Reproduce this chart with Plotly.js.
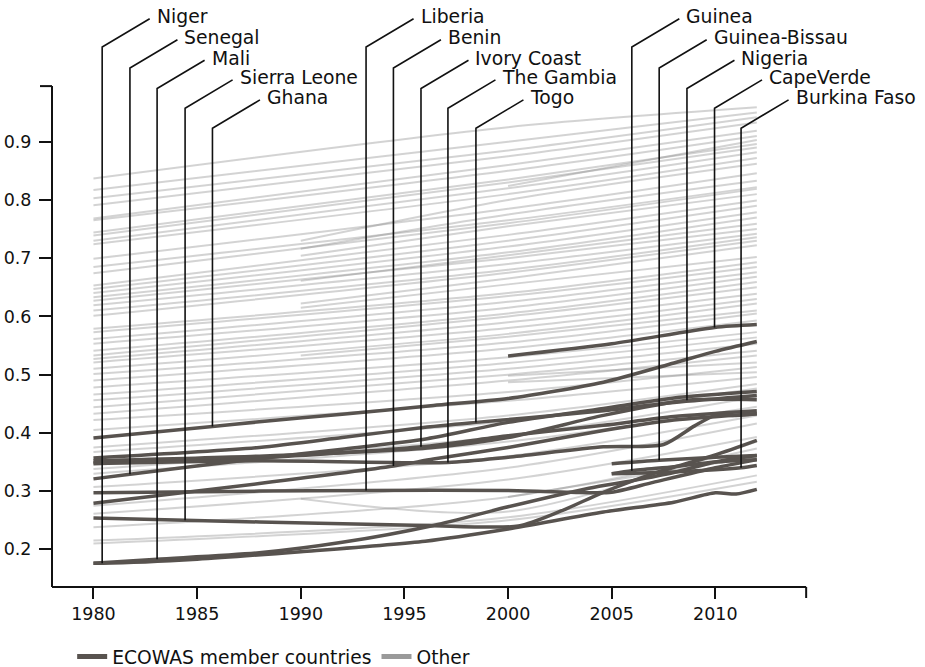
<!DOCTYPE html>
<html><head><meta charset="utf-8">
<script src="https://cdn.plot.ly/plotly-3.0.1.min.js"></script>
<style>html,body{margin:0;padding:0;background:#fff}#chart{width:925px;height:667px}</style>
</head><body><div id="chart"></div>
<script>
// ---------------- DATA ----------------
const labelCountries = ['Niger','Senegal','Mali','Sierra Leone','Ghana','Liberia','Benin','Ivory Coast','The Gambia','Togo','Guinea','Guinea-Bissau','Nigeria','CapeVerde','Burkina Faso'];
const labelYears = [1980.42,1981.76,1983.07,1984.42,1985.74,1993.15,1994.47,1995.8,1997.1,1998.45,2005.97,2007.29,2008.63,2009.96,2011.24];

const niger = [[1980,0.176],[1980.42,0.176],[1985,0.183],[1990,0.196],[1996,0.214],[2000,0.235],[2004.6,0.264],[2008,0.281],[2010,0.297],[2011,0.295],[2012,0.303]];
const senegal = [[1980,0.321],[1981.76,0.329],[1988,0.356],[1992,0.372],[1996.1,0.39],[2000,0.418],[2004.6,0.442],[2008,0.46],[2012,0.471]];
const mali = [[1980,0.176],[1983.07,0.183],[1988,0.194],[1992,0.212],[1996.4,0.241],[2000,0.273],[2003.9,0.305],[2006,0.318],[2008,0.332],[2010,0.35],[2012,0.361]];
const sierraLeone = [[1980,0.254],[1984.42,0.250],[1988,0.247],[1996,0.241],[2000.5,0.240],[2002.5,0.265],[2004.6,0.298],[2007,0.33],[2010,0.362],[2012,0.387]];
const ghana = [[1980,0.391],[1985.74,0.411],[1988,0.419],[1992,0.432],[1996.4,0.447],[2000,0.459],[2004.6,0.487],[2008,0.52],[2010,0.54],[2012,0.557]];
const liberia = [[1980,0.297],[1988,0.300],[1993.15,0.301],[2000,0.301],[2003,0.298],[2005,0.298],[2007,0.315],[2010,0.34],[2012,0.354]];
const benin = [[1980,0.279],[1988,0.313],[1994.47,0.343],[1996.4,0.355],[2000,0.375],[2004.6,0.404],[2008,0.422],[2012,0.433]];
const ivoryCoast = [[1980,0.349],[1988,0.357],[1995.8,0.376],[2000,0.395],[2004.6,0.413],[2008,0.428],[2012,0.438]];
const gambia = [[1980,0.347],[1988,0.352],[1997.1,0.349],[2000,0.358],[2004.6,0.376],[2007.5,0.38],[2009,0.412],[2010,0.43],[2011,0.43],[2012,0.433]];
const togo = [[1980,0.357],[1988,0.375],[1992,0.392],[1996.1,0.41],[1998.45,0.418],[2001,0.426],[2004.6,0.438],[2008,0.452],[2012,0.464]];
const guinea = [[2005,0.330],[2005.97,0.335],[2008,0.342],[2010,0.35],[2012,0.354]];
const guineaBissau = [[2005,0.347],[2007.29,0.353],[2010,0.358],[2012,0.361]];
const nigeria = [[1980,0.352],[1988,0.36],[1996.1,0.374],[2000,0.392],[2004.6,0.43],[2008.63,0.456],[2012,0.457]];
const capeVerde = [[2000,0.532],[2005,0.553],[2009.96,0.581],[2012,0.586]];
const burkinaFaso = [[2005,0.330],[2008,0.333],[2011.24,0.340],[2012,0.344]];

const ecowasSeries = [niger,senegal,mali,sierraLeone,ghana,liberia,benin,ivoryCoast,gambia,togo,guinea,guineaBissau,nigeria,capeVerde,burkinaFaso];

const otherStartYear = [1980,1980,1980,1980,1980,1980,2000,1980,1980,1980,
 1980,1990,1980,1990,1980,1980,1990,1980,1980,1980,
 1980,1990,1980,1980,1980,1980,1990,1990,1980,1980,
 1980,1980,1980,1980,1980,1980,1980,1990,1980,1980,
 1980,1980,1980,1980,1980,2000,1980,2000,1980,1980,
 1980,1980,1980,1980,1980,1980,1990,1980,2000,1980,1980];
const otherStartVal = [0.837,0.817,0.803,0.791,0.768,0.765,0.824,0.744,0.739,0.730,
 0.724,0.730,0.699,0.716,0.685,0.674,0.704,0.653,0.647,0.640,
 0.633,0.661,0.627,0.619,0.610,0.601,0.622,0.615,0.579,0.573,
 0.561,0.553,0.541,0.533,0.527,0.521,0.510,0.533,0.501,0.490,
 0.478,0.466,0.456,0.444,0.433,0.498,0.422,0.487,0.405,0.375,
 0.367,0.338,0.330,0.307,0.275,0.261,0.287,0.238,0.290,0.215,0.210];
const otherMidVal = [0.925,0.900,0.885,0.875,0.860,0.850,null,0.835,0.830,0.820,
 0.810,0.800,0.785,0.775,0.765,0.760,0.755,0.740,0.730,0.720,
 0.710,0.705,0.700,0.690,0.680,0.675,0.665,0.655,0.640,0.635,
 0.625,0.615,0.605,0.600,0.590,0.580,0.570,0.565,0.555,0.545,
 0.530,0.520,0.510,0.500,0.490,null,0.470,null,0.455,0.430,
 0.420,0.395,0.385,0.360,0.340,0.320,0.265,0.290,null,0.255,0.250];
const otherEndVal = [0.959,0.950,0.942,0.933,0.919,0.910,0.903,0.896,0.890,0.882,
 0.872,0.862,0.846,0.833,0.822,0.819,0.810,0.799,0.790,0.779,
 0.770,0.759,0.750,0.742,0.736,0.730,0.722,0.702,0.693,0.685,
 0.676,0.668,0.659,0.650,0.639,0.630,0.622,0.610,0.605,0.593,
 0.573,0.564,0.553,0.541,0.533,0.521,0.513,0.504,0.496,0.484,
 0.476,0.462,0.445,0.430,0.416,0.393,0.385,0.373,0.359,0.327,0.316];
const otherMidYear = 2000;
const endYear = 2012;

const xTickVals = [1980,1985,1990,1995,2000,2005,2010];
const yTickVals = [0.2,0.3,0.4,0.5,0.6,0.7,0.8,0.9];
const xAxisEnd = 2014.38, yAxisTop = 0.9955;

// ---------------- LAYOUT GEOMETRY ----------------
const W = 925, H = 667, ML = 52, MB = 80;
const PW = W - ML, PH = H - MB;
const PX_PER_YEAR = 20.73, PX_PER_UNIT = 582.3;
const X0 = 1978.0, Y0 = 0.1353;
const xRange = [X0, X0 + PW / PX_PER_YEAR];
const yRange = [Y0, Y0 + PH / PX_PER_UNIT];
const pxToVal = py => yRange[1] - py / PX_PER_UNIT;
const xPaper = v => (v - xRange[0]) / (xRange[1] - xRange[0]);
const yPaper = v => (v - yRange[0]) / (yRange[1] - yRange[0]);
const rowTopsPx = [47, 68, 88.5, 108.2, 128.2];
const diagDx = 47.5 / PX_PER_YEAR, diagDy = 28.3 / PX_PER_UNIT;

const DARK = '#58534f';
const FONT = 'DejaVu Sans, Verdana, sans-serif';

const traces = [];
// Other countries
for (let i = 0; i < otherStartVal.length; i++) {
  const xs = [otherStartYear[i]], ys = [otherStartVal[i]];
  if (otherMidVal[i] !== null) { xs.push(otherMidYear); ys.push(otherMidVal[i]); }
  xs.push(endYear); ys.push(otherEndVal[i]);
  traces.push({x: xs, y: ys, type: 'scatter', mode: 'lines', showlegend: false, hoverinfo: 'skip',
    line: {color: 'rgba(140,140,140,0.38)', width: 2, shape: 'spline', smoothing: 0.8}});
}
// ECOWAS
ecowasSeries.forEach(s => {
  traces.push({x: s.map(p => p[0]), y: s.map(p => p[1]), type: 'scatter', mode: 'lines', showlegend: false,
    hoverinfo: 'skip', line: {color: DARK, width: 3.5, shape: 'spline', smoothing: 0.7}});
});
// leaders
const annotations = [];
labelCountries.forEach((name, i) => {
  const s = ecowasSeries[i];
  const ly = labelYears[i];
  const pt = s.find(p => Math.abs(p[0] - ly) < 1e-6);
  const top = pxToVal(rowTopsPx[i % 5]);
  traces.push({x: [ly, ly, ly + diagDx], y: [pt[1], top, top + diagDy], type: 'scatter', mode: 'lines',
    showlegend: false, hoverinfo: 'skip', line: {color: '#111', width: 1.6}});
  annotations.push({x: ly + diagDx, y: top + diagDy, xref: 'x', yref: 'y', text: name, showarrow: false,
    xanchor: 'left', yanchor: 'middle', xshift: 5, yshift: 2, font: {family: FONT, size: 18.8, color: '#111'}});
});
// legend entries
traces.push({x: [null], y: [null], type: 'scatter', mode: 'lines', name: 'ECOWAS member countries', legendrank: 1,
  line: {color: DARK, width: 5}});
traces.push({x: [null], y: [null], type: 'scatter', mode: 'lines', name: 'Other', legendrank: 2,
  line: {color: '#9a9a9a', width: 5}});

const shapes = [
  {type: 'line', xref: 'paper', yref: 'paper', x0: 0, x1: 0, y0: 0, y1: yPaper(yAxisTop), line: {color: '#111', width: 2}},
  {type: 'line', xref: 'paper', yref: 'paper', x0: -12 / PW, x1: 0, y0: yPaper(yAxisTop), y1: yPaper(yAxisTop), line: {color: '#111', width: 2}},
  {type: 'line', xref: 'paper', yref: 'paper', x0: 0, x1: xPaper(xAxisEnd), y0: 0, y1: 0, line: {color: '#111', width: 2}},
  {type: 'line', xref: 'paper', yref: 'paper', x0: xPaper(xAxisEnd), x1: xPaper(xAxisEnd), y0: 0, y1: -11 / PH, line: {color: '#111', width: 2}}
];

const layout = {
  width: W, height: H,
  margin: {l: ML, r: 0, t: 0, b: MB, pad: 0, autoexpand: false},
  paper_bgcolor: '#fff', plot_bgcolor: '#fff',
  showlegend: true,
  legend: {orientation: 'h', x: 0.0231, xanchor: 'left', y: -0.119, yanchor: 'middle',
    font: {family: FONT, size: 18.7, color: '#111'}, itemwidth: 30, bgcolor: 'rgba(0,0,0,0)'},
  xaxis: {range: xRange, tickvals: xTickVals, ticks: 'outside', ticklen: 11, tickwidth: 2, tickcolor: '#111',
    showgrid: false, zeroline: false, showline: false, ticklabelstandoff: 0,
    tickfont: {family: FONT, size: 17.5, color: '#111'}},
  yaxis: {range: yRange, tickvals: yTickVals, tickformat: '.1f', ticks: 'outside', ticklen: 12, tickwidth: 2,
    tickcolor: '#111', showgrid: false, zeroline: false, showline: false, ticklabelstandoff: 4,
    tickfont: {family: FONT, size: 17.5, color: '#111'}},
  shapes: shapes,
  annotations: annotations,
  hovermode: false
};
Plotly.newPlot('chart', traces, layout, {staticPlot: true, displayModeBar: false});
</script></body></html>
